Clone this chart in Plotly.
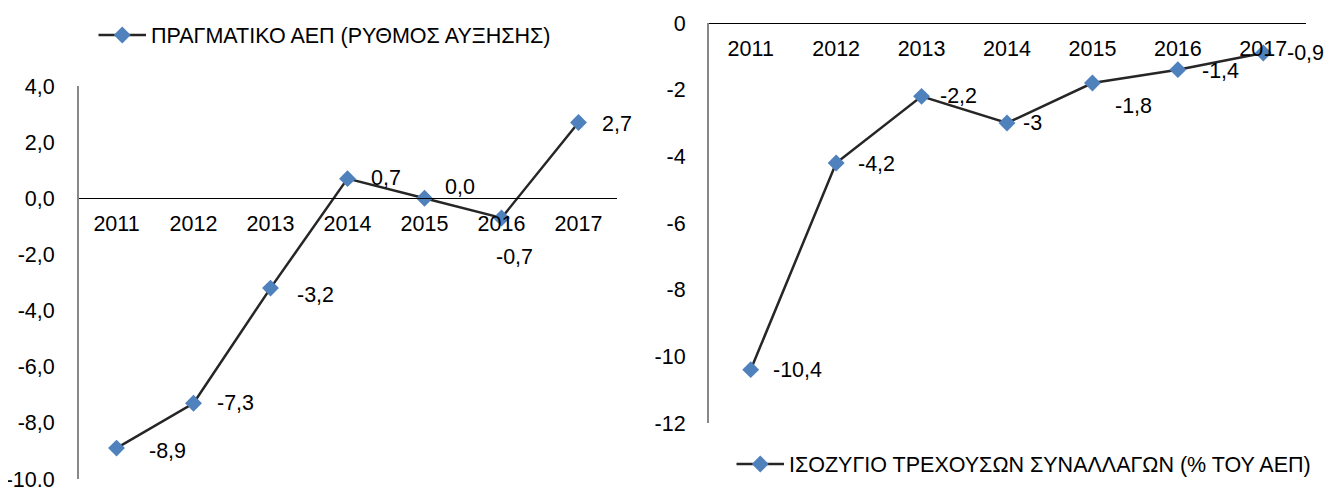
import plotly.graph_objects as go

years = ["2011", "2012", "2013", "2014", "2015", "2016", "2017"]
gdp_growth = [-8.9, -7.3, -3.2, 0.7, 0.0, -0.7, 2.7]
current_account = [-10.4, -4.2, -2.2, -3.0, -1.8, -1.4, -0.9]
name_left = "ΠΡΑΓΜΑΤΙΚΟ ΑΕΠ (ΡΥΘΜΟΣ ΑΥΞΗΣΗΣ)"
name_right = "ΙΣΟΖΥΓΙΟ ΤΡΕΧΟΥΣΩΝ ΣΥΝΑΛΛΑΓΩΝ (% ΤΟΥ ΑΕΠ)"
left_ticks = [4, 2, 0, -2, -4, -6, -8, -10]
right_ticks = [0, -2, -4, -6, -8, -10, -12]

# label offsets (pixels) - style only
left_shift = [(30, -3), (21, 0), (24, -7), (21, 1), (18, 11), (-8, -39), (21, -2)]
right_shift = [(20, 0), (20, -1), (16, 0), (14, 0), (21, -23), (22, -1), (22, 0)]

OFF = 8  # default body margin of the html page
W, H = 1335 - OFF, 487 - OFF
FONT = "Liberation Sans, Arial, sans-serif"
FS = 21.5
LINE = "#262626"
MARK = "#4F81BD"


def px(x):
    return (x - OFF) / W


def py(y):
    return 1 - (y - OFF) / H


def fx(v):
    return f"{v:.1f}".replace(".", ",")


def fg(v):
    return f"{v:g}".replace(".", ",")


# domains (from screen pixel positions)
lx = [px(78), px(617)]
ly = [py(479), py(86)]
rx = [px(708), px(1306)]
ry = [py(423), py(23)]
lrange = [-10, 4]
rrange = [-12, 0]
zero_left = ly[0] + (0 - lrange[0]) / (lrange[1] - lrange[0]) * (ly[1] - ly[0])
zero_right = ry[0] + (0 - rrange[0]) / (rrange[1] - rrange[0]) * (ry[1] - ry[0])

fig = go.Figure()
fig.add_trace(go.Scatter(
    x=years, y=gdp_growth, mode="lines+markers", name=name_left,
    line=dict(color=LINE, width=2.5),
    marker=dict(symbol="diamond", size=13, color=MARK),
    xaxis="x", yaxis="y", legend="legend", cliponaxis=False,
))
fig.add_trace(go.Scatter(
    x=years, y=current_account, mode="lines+markers", name=name_right,
    line=dict(color=LINE, width=2.5),
    marker=dict(symbol="diamond", size=13, color=MARK),
    xaxis="x2", yaxis="y2", legend="legend2", cliponaxis=False,
))

label_font = dict(family=FONT, size=FS, color="#000")
anns = []
for i, (v, (dx, dy)) in enumerate(zip(gdp_growth, left_shift)):
    anns.append(dict(x=i, y=v, xref="x", yref="y", text=fx(v), showarrow=False,
                     xanchor="left", yanchor="middle", xshift=dx, yshift=dy,
                     font=label_font))
for i, (v, (dx, dy)) in enumerate(zip(current_account, right_shift)):
    anns.append(dict(x=i, y=v, xref="x2", yref="y2", text=fg(v), showarrow=False,
                     xanchor="left", yanchor="middle", xshift=dx, yshift=dy,
                     font=label_font))

axis_font = dict(family=FONT, size=FS, color="#000")
fig.update_layout(
    width=W, height=H,
    margin=dict(l=0, r=0, t=0, b=0, pad=0, autoexpand=False),
    paper_bgcolor="white", plot_bgcolor="rgba(0,0,0,0)",
    separators=",.",
    font=dict(family=FONT, size=FS, color="#000"),
    xaxis=dict(domain=lx, anchor="free", position=zero_left, range=[-0.5, 6.5],
               type="category", showline=True, linecolor="#000", linewidth=1,
               showgrid=False, zeroline=False, ticks="", tickfont=axis_font,
               ticklabelstandoff=6),
    yaxis=dict(domain=ly, anchor="free", position=lx[0], range=lrange,
               tickvals=left_ticks, ticktext=[fx(t) for t in left_ticks],
               showline=True, linecolor="#888888", linewidth=2,
               showgrid=False, zeroline=False, ticks="", tickfont=axis_font,
               ticklabelstandoff=18, ticklabeloverflow="allow"),
    xaxis2=dict(domain=rx, anchor="free", position=zero_right, range=[-0.5, 6.5],
                type="category", showline=True, linecolor="#000", linewidth=1,
                showgrid=False, zeroline=False, ticks="", tickfont=axis_font,
                ticklabelstandoff=6),
    yaxis2=dict(domain=ry, anchor="free", position=rx[0], range=rrange,
                tickvals=right_ticks, ticktext=[fg(t) for t in right_ticks],
                showline=True, linecolor="#888888", linewidth=2,
                showgrid=False, zeroline=False, ticks="", tickfont=axis_font,
                ticklabelstandoff=17, ticklabeloverflow="allow"),
    legend=dict(x=px(93.5), y=py(35), xanchor="left", yanchor="middle",
                bgcolor="rgba(0,0,0,0)", font=axis_font, itemwidth=47.5),
    legend2=dict(x=px(731.5), y=py(464), xanchor="left", yanchor="middle",
                 bgcolor="rgba(0,0,0,0)", font=axis_font, itemwidth=47.5),
    annotations=anns,
    showlegend=True,
)

fig.write_html("out.html")
